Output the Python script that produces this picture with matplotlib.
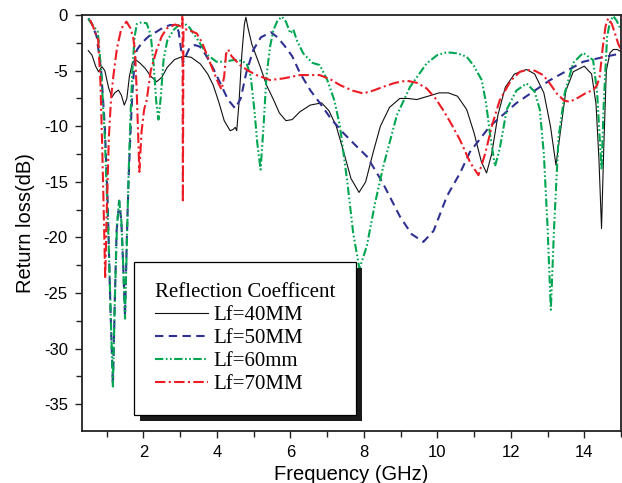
import numpy as np
import matplotlib
matplotlib.use("Agg")
import matplotlib.pyplot as plt
from matplotlib.patches import Rectangle
from matplotlib.ticker import MultipleLocator

plt.rcParams["axes.unicode_minus"] = False
plt.rcParams["font.family"] = ["Liberation Sans", "DejaVu Sans"]

# ---- data (frequency in GHz, return loss in dB) ----
f40 = [0.50, 0.60, 0.70, 0.78, 0.87, 0.95, 1.05, 1.14, 1.22, 1.32, 1.40, 1.48,
       1.55, 1.62, 1.70, 1.78, 1.90, 2.05, 2.20, 2.36, 2.50, 2.65, 2.85, 3.09,
       3.30, 3.55, 3.75, 3.90, 4.05, 4.20, 4.36, 4.44, 4.50, 4.54, 4.60, 4.68,
       4.75, 4.79, 4.85, 4.95, 5.05, 5.18, 5.35, 5.54, 5.70, 5.88, 6.05, 6.26,
       6.54, 6.85, 7.05, 7.25, 7.45, 7.65, 7.87, 8.05, 8.25, 8.45, 8.70, 8.98,
       9.20, 9.44, 9.75, 10.05, 10.30, 10.55, 10.80, 11.00, 11.20, 11.34, 11.48,
       11.65, 11.85, 12.10, 12.43, 12.65, 12.90, 13.08, 13.23, 13.35, 13.50,
       13.70, 14.00, 14.20, 14.32, 14.40, 14.47, 14.53, 14.60, 14.70, 14.79,
       14.90, 15.00]
s40 = [-3.2, -3.6, -4.6, -5.1, -4.65, -5.0, -6.5, -7.4, -7.0, -6.75, -7.2, -8.1,
       -7.5, -5.5, -4.3, -4.0, -4.3, -4.8, -5.5, -6.0, -5.6, -4.7, -4.0, -3.7,
       -3.8, -4.4, -5.3, -6.3, -7.8, -9.5, -10.4, -10.3, -10.1, -10.4, -8.0, -3.5,
       -0.8, -0.2, -1.2, -2.6, -3.5, -4.65, -6.3, -7.6, -8.8, -9.5, -9.4, -8.7,
       -8.1, -7.9, -8.6, -10.0, -12.3, -14.7, -15.95, -15.0, -12.4, -10.0, -8.3, -7.5,
       -7.5, -7.6, -7.3, -7.0, -7.0, -7.3, -8.5, -10.6, -13.2, -14.2, -12.5,
       -9.0, -6.5, -5.3, -4.9, -5.3, -7.0, -10.0, -13.5, -10.5, -6.8,
       -5.1, -4.6, -5.3, -8.0, -13.0, -19.2, -12.0, -5.0, -3.4, -3.1,
       -3.1, -3.3]

f50 = [0.50, 0.60, 0.73, 0.85, 0.95, 1.03, 1.10, 1.17, 1.22, 1.27, 1.34, 1.40,
       1.45, 1.50, 1.55, 1.60, 1.64, 1.70, 1.76, 1.82, 1.96, 2.15, 2.36, 2.55,
       2.73, 2.88, 2.96, 3.03, 3.08, 3.14, 3.25, 3.40, 3.54, 3.70, 3.90, 4.09,
       4.30, 4.50, 4.65, 4.80, 4.99, 5.20, 5.47, 5.65, 5.85, 6.05, 6.26, 6.55,
       6.80, 7.10, 7.44, 7.80, 8.08, 8.50, 8.98, 9.30, 9.62, 9.90, 10.26, 10.62,
       10.89, 11.43, 12.16, 13.07, 13.97, 14.50, 15.00]
s50 = [-0.3, -0.8, -1.95, -5.0, -10.0, -17.0, -26.0, -33.3, -26.0, -19.5, -16.7, -18.5,
       -22.5, -27.1, -20.0, -14.5, -11.2, -7.0, -4.2, -3.15, -2.5, -1.9, -1.5, -1.1,
       -0.9, -0.9, -1.5, -3.2, -4.3, -3.8, -3.0, -2.7, -2.85, -3.6, -4.8, -6.1,
       -7.6, -8.4, -7.5, -5.2, -3.15, -2.0, -1.55, -2.0, -2.8, -3.7, -5.2, -6.8,
       -7.9, -9.3, -10.6, -11.8, -12.7, -15.0, -18.1, -19.7, -20.4, -19.4, -16.3, -14.2,
       -12.3, -10.0, -7.9, -5.85, -4.2, -3.8, -3.45]

f60 = [0.50, 0.60, 0.69, 0.76, 0.85, 0.95, 1.05, 1.12, 1.17, 1.22, 1.28, 1.34,
       1.40, 1.45, 1.50, 1.55, 1.60, 1.65, 1.70, 1.76, 1.82, 1.95, 2.09, 2.20,
       2.28, 2.35, 2.41, 2.47, 2.55, 2.65, 2.82, 3.00, 3.09, 3.25, 3.54, 3.75,
       3.99, 4.20, 4.45, 4.65, 4.81, 4.92, 5.02, 5.10, 5.19, 5.27, 5.35, 5.45,
       5.54, 5.65, 5.77, 5.88, 6.00, 6.08, 6.18, 6.35, 6.60, 6.80, 7.00, 7.20,
       7.35, 7.55, 7.71, 7.88, 8.08, 8.30, 8.53, 8.90, 9.26, 9.71, 10.00, 10.26,
       10.55, 10.80, 11.00, 11.21, 11.33, 11.43, 11.57, 11.70, 11.89, 12.15,
       12.43, 12.65, 12.79, 12.90, 13.00, 13.09, 13.18, 13.30, 13.47, 13.70,
       13.97, 14.24, 14.35, 14.42, 14.47, 14.53, 14.62, 14.70, 14.79, 14.88, 15.00]
s60 = [-0.36, -0.8, -1.2, -1.5, -5.0, -11.0, -20.0, -28.0, -33.4, -26.0, -19.0, -16.7,
       -18.5, -22.5, -27.3, -20.5, -14.0, -9.0, -5.0, -2.0, -0.8, -0.65, -0.75, -1.8,
       -4.5, -7.8, -9.4, -7.5, -4.0, -2.3, -1.35, -0.8, -0.7, -1.1, -2.55, -3.6,
       -4.2, -4.2, -4.05, -4.1, -4.35, -5.5, -8.5, -11.5, -13.9, -10.0, -5.5, -2.8,
       -1.35, -0.5, -0.15, -0.6, -1.65, -1.3, -2.3, -3.45, -4.3, -4.5, -5.8, -7.7,
       -10.0, -15.0, -19.6, -22.8, -20.8, -17.0, -13.6, -9.0, -6.45, -4.35, -3.6, -3.35,
       -3.45, -3.75, -4.6, -5.85, -8.0, -10.6, -13.6, -12.0, -8.5, -6.8,
       -6.15, -6.9, -8.5, -12.5, -19.0, -26.5, -19.0, -11.0, -7.0, -4.3,
       -3.4, -4.05, -7.0, -11.0, -13.9, -8.0, -2.0, -0.6, -0.1, -0.5, -1.35]

f70 = [0.55, 0.65, 0.77, 0.83, 0.88, 0.93, 0.96, 1.00, 1.06, 1.12, 1.18, 1.28,
       1.40, 1.54, 1.65, 1.72, 1.77, 1.82, 1.86, 1.89, 1.95, 2.02, 2.09, 2.20,
       2.36, 2.50, 2.64, 2.86, 3.00, 3.05, 3.065, 3.075, 3.09, 3.20, 3.45, 3.60,
       3.73, 3.90, 4.05, 4.13, 4.20, 4.25, 4.31, 4.40, 4.63, 4.85, 5.08, 5.45,
       5.81, 6.26, 6.80, 7.10, 7.35, 7.70, 7.98, 8.25, 8.53, 8.85, 9.16, 9.45,
       9.71, 9.95, 10.16, 10.40, 10.62, 10.90, 11.12, 11.30, 11.50, 11.70, 12.00,
       12.25, 12.43, 12.65, 12.88, 13.05, 13.25, 13.45, 13.61, 13.85, 14.05,
       14.24, 14.35, 14.42, 14.50, 14.58, 14.65, 14.75, 14.85, 14.92, 15.00]
s70 = [-0.45, -1.2, -2.25, -6.0, -12.0, -19.0, -23.7, -18.0, -11.0, -7.5, -5.55, -3.0,
       -1.2, -0.6, -1.2, -2.0, -3.15, -7.0, -11.0, -14.1, -10.5, -8.5, -7.65, -5.0,
       -3.15, -1.9, -1.2, -0.85, -1.0, -1.1, 0.5, -16.85, -1.3, -1.3, -1.65, -2.5,
       -3.6, -5.0, -6.2, -6.7, -5.5, -3.5, -3.1, -3.7, -4.5, -5.0, -5.4, -5.85,
       -5.7, -5.4, -5.4, -5.8, -6.3, -6.8, -7.05, -6.8, -6.45, -6.1, -5.9, -6.1,
       -6.6, -7.5, -8.55, -9.9, -11.25, -13.3, -14.4, -12.5, -9.8, -7.65, -5.9,
       -5.1, -4.95, -5.0, -5.4, -6.1, -7.05, -7.7, -7.8, -7.4, -7.0,
       -6.75, -6.3, -5.55, -3.0, -1.0, -0.3, -0.8, -1.8, -2.55, -3.1]

labels = ["Lf=40MM", "Lf=50MM", "Lf=60mm", "Lf=70MM"]
legend_title = "Reflection Coefficent"

BLACK = "#111111"
BLUE = "#2e3192"
GREEN = "#00a651"
RED = "#ed1c24"

fig = plt.figure(figsize=(6.22, 4.83), dpi=100)
ax = fig.add_axes([0.1313, 0.1077, 0.8671, 0.8612])

ax.plot(f40, s40, color=BLACK, lw=0.8, label=labels[0])
ax.plot(f50, s50, color=BLUE, lw=1.5, ls=(0, (4, 2.6)), label=labels[1])
ax.plot(f60, s60, color=GREEN, lw=1.5, ls=(0, (4, 1.2, 0.8, 1.2, 0.8, 1.2)),
        label=labels[2])
ax.plot(f70, s70, color=RED, lw=1.5, ls=(0, (5, 1.6, 1, 1.6)), label=labels[3])

ax.set_xlim(0.32, 15.0)
ax.set_ylim(-37.4, 0.0)
ax.xaxis.set_major_locator(MultipleLocator(2))
ax.xaxis.set_minor_locator(MultipleLocator(1))
ax.yaxis.set_major_locator(MultipleLocator(5))
ax.yaxis.set_minor_locator(MultipleLocator(2.5))
ax.tick_params(which="both", direction="out", top=False, right=False,
               labelsize=12, color="#222222", pad=5)
ax.tick_params(which="major", length=5, width=1.0)
ax.tick_params(which="minor", length=4, width=1.0)
for sp in ax.spines.values():
    sp.set_linewidth(1.3)
    sp.set_color("#222222")

ax.set_xlabel("Frequency (GHz)", fontsize=14.5, labelpad=4)
ax.set_ylabel("Return loss(dB)", fontsize=14.5, labelpad=6)

leg = ax.legend(title=legend_title, loc="upper left",
                bbox_to_anchor=(0.097, 0.4063), borderaxespad=0,
                prop={"family": "Liberation Serif", "size": 15},
                title_fontproperties={"family": "Liberation Serif", "size": 15},
                alignment="left", fancybox=False, edgecolor="black",
                framealpha=1, borderpad=1.0, handlelength=2.55,
                handletextpad=0.24, labelspacing=0.17)
leg.get_frame().set_linewidth(0.9)
leg.set_zorder(6)

# offset black shadow behind the legend box
fig.canvas.draw()
bb = leg.get_window_extent()
sh = Rectangle((bb.x0 + 6, bb.y0 - 6), bb.width, bb.height, transform=None,
               facecolor="#1a1a1a", edgecolor="none", zorder=5)
ax.add_artist(sh)

fig.savefig("out.png", dpi=100)
